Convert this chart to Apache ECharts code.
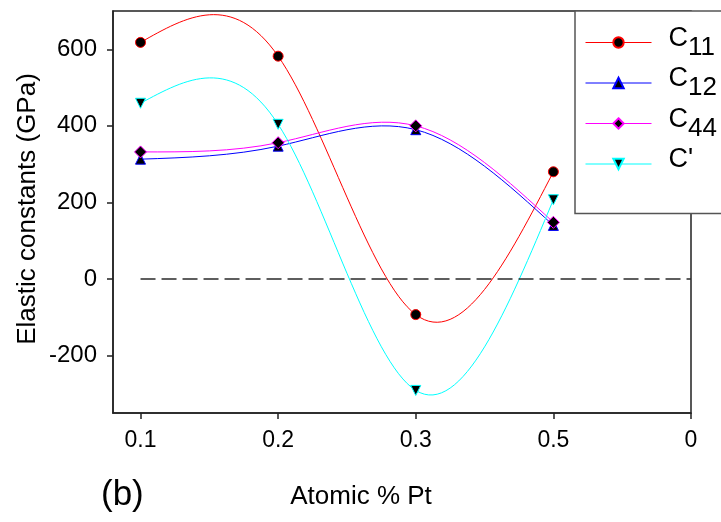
<!DOCTYPE html>
<html>
<head>
<meta charset="utf-8">
<script src="https://cdn.jsdelivr.net/npm/echarts@6/dist/echarts.min.js"></script>
<style>html,body{margin:0;padding:0;background:#fff}#c{width:721px;height:522px}</style>
</head>
<body>
<div id="c"></div>
<script>
var xLabels = ['0.1', '0.2', '0.3', '0.5', '0'];
var xPos = [0, 1, 2, 3];
var yTicks = [-200, 0, 200, 400, 600];
var c11 = [618, 582, -93, 280];
var c12 = [313, 347, 390, 140];
var c44 = [332, 356, 400, 148];
var cPrime = [459, 404, -291, 207];
var seriesNames = ['C11', 'C12', 'C44', "C'"];
var seriesColors = ['#ff0000', '#0000ff', '#ff00ff', '#00ffff'];

function pairs(vals) { return vals.map(function (v, i) { return [xPos[i], v]; }); }

// natural cubic spline second derivatives (Thomas algorithm)
function splineM(xs, ys) {
  var n = xs.length, M = new Array(n).fill(0);
  if (n < 3) return M;
  var a = [], b = [], c = [], d = [];
  for (var i = 1; i < n - 1; i++) {
    var h0 = xs[i] - xs[i - 1], h1 = xs[i + 1] - xs[i];
    a.push(h0); b.push(2 * (h0 + h1)); c.push(h1);
    d.push(6 * ((ys[i + 1] - ys[i]) / h1 - (ys[i] - ys[i - 1]) / h0));
  }
  var m = b.length;
  for (var k = 1; k < m; k++) {
    var w = a[k] / b[k - 1];
    b[k] -= w * c[k - 1]; d[k] -= w * d[k - 1];
  }
  var sol = new Array(m);
  sol[m - 1] = d[m - 1] / b[m - 1];
  for (var k2 = m - 2; k2 >= 0; k2--) sol[k2] = (d[k2] - c[k2] * sol[k2 + 1]) / b[k2];
  for (var j = 0; j < m; j++) M[j + 1] = sol[j];
  return M;
}

function curveSeries(vals, color) {
  var M = splineM(xPos, vals);
  return {
    type: 'custom', silent: true, z: 2,
    data: pairs(vals),
    encode: { x: 0, y: 1 },
    renderItem: function (params, api) {
      var i = params.dataIndex;
      if (i >= xPos.length - 1) return null;
      var x0 = xPos[i], x1 = xPos[i + 1], y0 = vals[i], y1 = vals[i + 1], h = x1 - x0;
      var s0 = (y1 - y0) / h - h * (2 * M[i] + M[i + 1]) / 6;
      var s1 = (y1 - y0) / h + h * (M[i] + 2 * M[i + 1]) / 6;
      var p0 = api.coord([x0, y0]);
      var q0 = api.coord([x0 + h / 3, y0 + s0 * h / 3]);
      var q1 = api.coord([x1 - h / 3, y1 - s1 * h / 3]);
      var p1 = api.coord([x1, y1]);
      return {
        type: 'bezierCurve',
        shape: { x1: p0[0], y1: p0[1], cpx1: q0[0], cpy1: q0[1], cpx2: q1[0], cpy2: q1[1], x2: p1[0], y2: p1[1] },
        style: { stroke: color, fill: null, lineWidth: 1 }
      };
    }
  };
}

var FONT = 'Liberation Sans, Arial, sans-serif';
var chart = echarts.init(document.getElementById('c'), null, { renderer: 'canvas' });

function mk(name, data, color, symbol, rotate, size) {
  return {
    name: name, type: 'line', data: pairs(data),
    symbol: symbol, symbolSize: size, symbolRotate: rotate,
    lineStyle: { color: color, width: 1, opacity: 0 },
    itemStyle: { color: '#000', borderColor: color, borderWidth: 1 },
    emphasis: { disabled: true }, z: 3
  };
}

var s1 = mk('C11', c11, seriesColors[0], 'circle', 0, 10);
s1.markLine = {
  silent: true, symbol: 'none', label: { show: false },
  lineStyle: { color: '#2a2a2a', width: 1.5, type: [15, 6], opacity: 1 },
  data: [[{ coord: [0, 0] }, { coord: [4, 0] }]]
};

var option = {
  animation: false,
  backgroundColor: '#fff',
  grid: { left: 113, right: 30, top: 11, bottom: 109, show: true, borderColor: '#222', borderWidth: 1.5, backgroundColor: 'transparent' },
  xAxis: {
    type: 'value', min: -0.2, max: 4,
    axisLine: { onZero: false, lineStyle: { color: '#222', width: 1.5 } },
    axisTick: { show: true, customValues: [0, 1, 2, 3, 4], length: 6, lineStyle: { color: '#222', width: 1.5 } },
    axisLabel: { customValues: [0, 1, 2, 3, 4], color: '#000', fontSize: 23, fontFamily: FONT, margin: 16,
      formatter: function (v) { return xLabels[Math.round(v)]; } },
    splitLine: { show: false }
  },
  yAxis: {
    type: 'value', min: -350, max: 700,
    axisLine: { show: true, onZero: false, lineStyle: { color: '#222', width: 1.5 } },
    axisTick: { show: true, customValues: yTicks, length: 6, lineStyle: { color: '#222', width: 1.5 } },
    axisLabel: { customValues: yTicks, color: '#000', fontSize: 24, fontFamily: FONT, margin: 16 },
    splitLine: { show: false }
  },
  legend: {
    orient: 'vertical', left: 575, top: 11,
    padding: [14, 90, 40, 10], itemGap: 5,
    itemWidth: 66, itemHeight: 13,
    backgroundColor: '#fff', borderColor: '#555', borderWidth: 1.5,
    lineStyle: { opacity: 1, width: 1 },
    data: seriesNames,
    formatter: function (n) {
      if (n === "C'") return "{c|C'}";
      return '{c|C}{s|' + n.slice(1) + '}';
    },
    textStyle: {
      fontFamily: FONT, color: '#000',
      rich: {
        c: { fontSize: 27, fontFamily: FONT, color: '#000', padding: [0, 0, 8, 12] },
        s: { fontSize: 26, fontFamily: FONT, color: '#000', padding: [10, 0, 0, 0] }
      }
    },
    z: 10
  },
  graphic: [
    { type: 'text', left: 101, top: 478, style: { text: '(b)', font: '35px ' + FONT, fill: '#000' } },
    { type: 'text', x: 361, y: 497, style: { text: 'Atomic % Pt', font: '26px ' + FONT, fill: '#000', align: 'center', verticalAlign: 'middle' } },
    { type: 'text', x: 28, y: 209, rotation: Math.PI / 2, style: { text: 'Elastic constants (GPa)', font: '26px ' + FONT, fill: '#000', align: 'center', verticalAlign: 'middle' } }
  ],
  series: [
    curveSeries(c11, seriesColors[0]),
    curveSeries(c12, seriesColors[1]),
    curveSeries(c44, seriesColors[2]),
    curveSeries(cPrime, seriesColors[3]),
    s1,
    mk('C12', c12, seriesColors[1], 'triangle', 0, 10),
    mk('C44', c44, seriesColors[2], 'diamond', 0, 12),
    mk("C'", cPrime, seriesColors[3], 'triangle', 180, 10)
  ]
};
chart.setOption(option);
</script>
</body>
</html>
